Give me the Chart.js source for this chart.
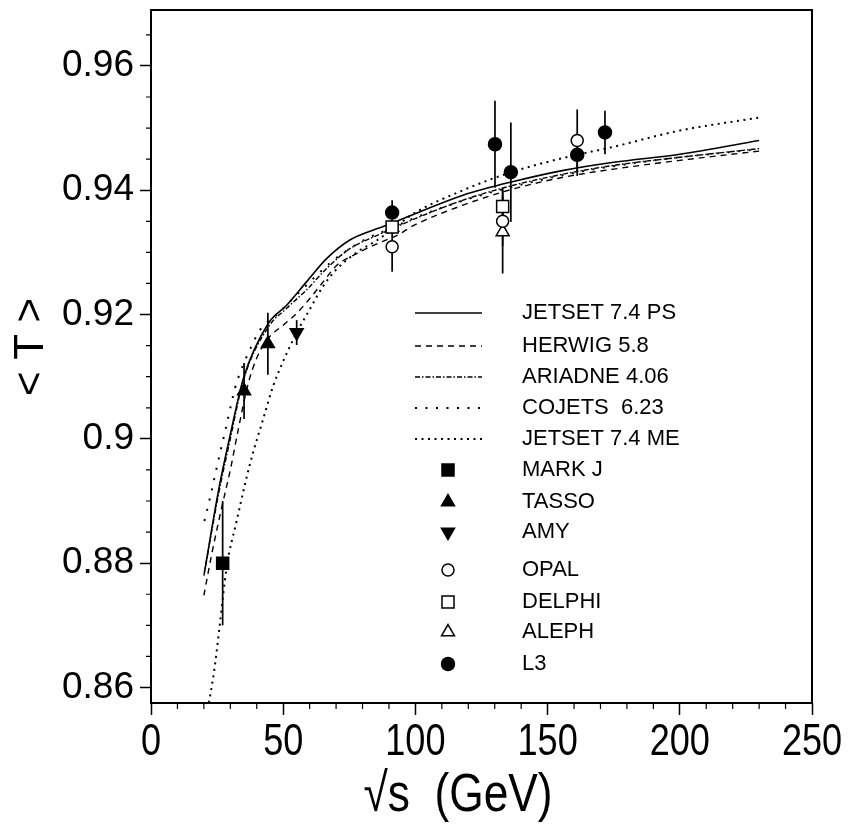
<!DOCTYPE html>
<html lang="en">
<head>
<meta charset="UTF-8">
<title>Mean thrust vs sqrt(s)</title>
<script src="https://cdn.jsdelivr.net/npm/chart.js@4.4.0/dist/chart.umd.min.js"></script>
<style>
  body { margin: 0; background: #fff; }
  #wrap { width: 850px; height: 825px; }
</style>
</head>
<body>
<div id="wrap"><canvas id="myChart"></canvas></div>
<script>
// model curves (energy in GeV, <T>)
const psE = [20.2, 25.5, 29.9, 35, 44.4, 51.3, 58.9, 66.4, 75.2, 85.3, 91.2, 99.2, 118, 137, 156, 175, 200, 230];
const psT = [0.8785, 0.8916, 0.9005, 0.9098, 0.9186, 0.9215, 0.9253, 0.929, 0.932, 0.9338, 0.9347, 0.9361, 0.9392, 0.9414, 0.9432, 0.9445, 0.9458, 0.948];

const herwigE = [20, 23, 26.5, 30, 33, 36.7, 40, 44.4, 50, 55.1, 60.1, 65.2, 70.2, 77.8, 86.6, 92.9, 99.2, 118, 137, 156, 175, 200, 230];
const herwigT = [0.8748, 0.8815, 0.8885, 0.895, 0.9015, 0.9088, 0.913, 0.9162, 0.9183, 0.9202, 0.9226, 0.9253, 0.9279, 0.9298, 0.9316, 0.9327, 0.9343, 0.9376, 0.9402, 0.9421, 0.9434, 0.9448, 0.9463];

const ariadneE = [20, 25.5, 30, 35, 44.4, 51.3, 58.9, 66.4, 75.2, 85.3, 91.2, 99.2, 118, 137, 156, 175, 200, 230];
const ariadneT = [0.878, 0.891, 0.9, 0.9095, 0.918, 0.921, 0.924, 0.9274, 0.9306, 0.9327, 0.9338, 0.9353, 0.9384, 0.9408, 0.9426, 0.944, 0.9453, 0.9467];

const cojetsE = [20.2, 22.3, 25.4, 28.6, 31.8, 33.4, 36.8, 41.2, 48.1, 54.5, 61.4, 68.3, 75.2, 81.6, 90.4, 100, 120, 140, 160, 180, 200, 230];
const cojetsT = [0.8868, 0.8905, 0.8964, 0.9023, 0.9082, 0.9103, 0.9138, 0.9175, 0.9202, 0.9229, 0.9258, 0.9285, 0.9306, 0.9322, 0.9338, 0.9356, 0.9386, 0.9409, 0.9428, 0.9442, 0.9453, 0.9466];

const meE = [21.5, 24, 26, 28.6, 32.4, 37.4, 42.5, 46.2, 50, 55, 60, 65, 70, 77.8, 85.3, 91.6, 99.2, 118, 137, 156, 175, 200, 230];
const meT = [0.8565, 0.863, 0.87, 0.8793, 0.8868, 0.8959, 0.9033, 0.9085, 0.9125, 0.917, 0.9208, 0.9245, 0.9272, 0.93, 0.9319, 0.9338, 0.9362, 0.94, 0.943, 0.9452, 0.947, 0.9496, 0.9517];

// measurements
const markE = [27.1], markT = [0.880], markErr = [0.010];
const tassoE = [35.2, 44.2], tassoT = [0.9077, 0.9153], tassoErr = [0.0045, 0.005];
const amyE = [55.1], amyT = [0.9171], amyErr = [0.002];
const opalE = [91.2, 133, 161.2], opalT = [0.9309, 0.935, 0.948], opalErr = [0.004, 0.004, 0.005];
const delphiE = [91.2, 133], delphiT = [0.9341, 0.9374], delphiErr = [0.001, 0.003];
const alephE = [91.2, 133], alephT = [0.934, 0.9333], alephErr = [0.001, 0.0067];
const l3E = [91.2, 130.1, 136.1, 161.2, 171.7], l3T = [0.9364, 0.9474, 0.9429, 0.9457, 0.9493], l3Err = [0.002, 0.007, 0.008, 0.0034, 0.0035];

const xTicks = [0, 50, 100, 150, 200, 250];
const yTicks = [0.86, 0.88, 0.9, 0.92, 0.94, 0.96];
const xTitle = '\u221As  (GeV)';
const yTitle = '< T >';

function pts(xs, ys) { return xs.map((x, i) => ({x: x, y: ys[i]})); }

function curve(label, xs, ys, width, dash) {
    return {
        label: label, data: pts(xs, ys), order: 2,
        borderColor: '#000', borderWidth: width, borderDash: dash,
        pointRadius: 0, fill: false, cubicInterpolationMode: 'monotone'
    };
}

function marks(label, xs, ys, errs, style, radius, filled, rotation) {
    return {
        label: label, data: pts(xs, ys), errors: errs, order: 1, showLine: false,
        pointStyle: style, pointRadius: radius, pointRotation: rotation || 0,
        pointBackgroundColor: filled ? '#000' : '#fff',
        pointBorderColor: '#000', pointBorderWidth: 1.5
    };
}

const datasets = [
    curve('JETSET 7.4 PS', psE, psT, 1.6, []),
    curve('HERWIG 5.8', herwigE, herwigT, 1.4, [6, 5]),
    curve('ARIADNE 4.06', ariadneE, ariadneT, 1.4, [5, 2, 1.5, 2]),
    curve('COJETS  6.23', cojetsE, cojetsT, 2, [2, 8.5]),
    curve('JETSET 7.4 ME', meE, meT, 2, [2, 4.5]),
    marks('MARK J', markE, markT, markErr, 'rect', 8.5, true),
    marks('TASSO', tassoE, tassoT, tassoErr, 'triangle', 7.5, true),
    marks('AMY', amyE, amyT, amyErr, 'triangle', 7.5, true, 180),
    marks('OPAL', opalE, opalT, opalErr, 'circle', 6, false),
    marks('DELPHI', delphiE, delphiT, delphiErr, 'rect', 8.5, false),
    marks('ALEPH', alephE, alephT, alephErr, 'triangle', 7.5, false),
    marks('L3', l3E, l3T, l3Err, 'circle', 6.5, true)
];

// legend rows (y pixel of each row)
const legendY = [313, 346, 377, 408, 439, 470, 502, 532, 570, 602, 632, 664];

const extras = {
    id: 'extras',
    beforeDatasetsDraw(chart) {
        const ctx = chart.ctx, x = chart.scales.x, y = chart.scales.y;
        ctx.save();
        ctx.strokeStyle = '#000';
        ctx.lineWidth = 1.7;
        chart.data.datasets.forEach(ds => {
            if (!ds.errors) return;
            ds.data.forEach((p, i) => {
                const px = x.getPixelForValue(p.x);
                ctx.beginPath();
                ctx.moveTo(px, y.getPixelForValue(p.y - ds.errors[i]));
                ctx.lineTo(px, y.getPixelForValue(p.y + ds.errors[i]));
                ctx.stroke();
            });
        });
        ctx.restore();
    },
    afterDraw(chart) {
        const ctx = chart.ctx, a = chart.chartArea, x = chart.scales.x, y = chart.scales.y;
        ctx.save();
        // frame
        ctx.strokeStyle = '#000';
        ctx.lineWidth = 2;
        ctx.strokeRect(a.left, a.top, a.right - a.left, a.bottom - a.top);
        // minor ticks
        ctx.lineWidth = 1.2;
        ctx.beginPath();
        for (let v = 10; v < 250; v += 10) {
            if (v % 50 === 0) continue;
            const px = x.getPixelForValue(v);
            ctx.moveTo(px, a.bottom); ctx.lineTo(px, a.bottom + 6);
        }
        for (let k = 0; k <= 21; k++) {
            const v = 0.86 + k * 0.005;
            if (k % 4 === 0 || v > y.max) continue;
            const py = y.getPixelForValue(v);
            ctx.moveTo(a.left, py); ctx.lineTo(a.left - 5, py);
        }
        ctx.stroke();

        // x tick labels and title, in a narrowed Arial-like face
        ctx.fillStyle = '#000';
        ctx.textAlign = 'center';
        ctx.textBaseline = 'alphabetic';
        ctx.font = '44px "Liberation Sans", Arial, sans-serif';
        xTicks.forEach(v => {
            ctx.save();
            ctx.translate(x.getPixelForValue(v), 755);
            ctx.scale(0.82, 1);
            ctx.fillText(String(v), 0, 0);
            ctx.restore();
        });
        ctx.font = '54px "Liberation Sans", Arial, sans-serif';
        ctx.save();
        ctx.translate(458, 811);
        ctx.scale(0.82, 1);
        ctx.fillText(xTitle, 0, 0);
        ctx.restore();

        // y title
        ctx.font = '42px "Liberation Sans", Arial, sans-serif';
        ctx.textBaseline = 'middle';
        ctx.save();
        ctx.translate(31, 347);
        ctx.rotate(-Math.PI / 2);
        ctx.fillText(yTitle, 0, 0);
        ctx.restore();

        // legend
        ctx.textAlign = 'left';
        ctx.font = '22px "Liberation Sans", Arial, sans-serif';
        chart.data.datasets.forEach((ds, i) => {
            const ly = legendY[i];
            ctx.fillStyle = '#000';
            ctx.fillText(ds.label, 522, ly);
            if (ds.errors) {
                ctx.fillStyle = ds.pointBackgroundColor;
                ctx.strokeStyle = '#000';
                ctx.lineWidth = 1.5;
                Chart.helpers.drawPoint(ctx, {
                    pointStyle: ds.pointStyle, rotation: ds.pointRotation,
                    radius: ds.pointRadius, borderWidth: 1.5
                }, 448, ly);
            } else {
                ctx.strokeStyle = '#000';
                ctx.lineWidth = ds.borderWidth;
                ctx.setLineDash(ds.borderDash);
                ctx.beginPath();
                ctx.moveTo(415, ly); ctx.lineTo(482, ly);
                ctx.stroke();
                ctx.setLineDash([]);
            }
        });
        ctx.restore();
    }
};

const ctx = document.getElementById('myChart');
const myChart = new Chart(ctx, {
    type: 'line',
    data: { datasets: datasets },
    plugins: [extras],
    options: {
        responsive: true,
        maintainAspectRatio: false,
        animation: false,
        events: [],
        layout: { padding: { left: 0, right: 38, top: 5, bottom: 0 } },
        plugins: { legend: { display: false }, tooltip: { enabled: false } },
        scales: {
            x: {
                type: 'linear', min: 0, max: 250,
                afterFit: s => { s.height = 122; },
                afterBuildTicks: s => { s.ticks = xTicks.map(v => ({value: v})); },
                border: { display: false },
                grid: { drawOnChartArea: false, drawTicks: true, tickLength: 12, color: '#000', tickWidth: 1.5 },
                ticks: { display: false }
            },
            y: {
                type: 'linear', min: 0.8575, max: 0.969,
                afterFit: s => { s.width = 151; },
                afterBuildTicks: s => { s.ticks = yTicks.map(v => ({value: v})); },
                border: { display: false },
                grid: { drawOnChartArea: false, drawTicks: true, tickLength: 11, color: '#000', tickWidth: 1.5 },
                ticks: {
                    color: '#000', padding: 6,
                    font: { family: '"Liberation Sans", Arial, sans-serif', size: 37, lineHeight: 0.05 },
                    callback: v => v.toFixed(2).replace(/0$/, '')
                }
            }
        }
    }
});
</script>
</body>
</html>
